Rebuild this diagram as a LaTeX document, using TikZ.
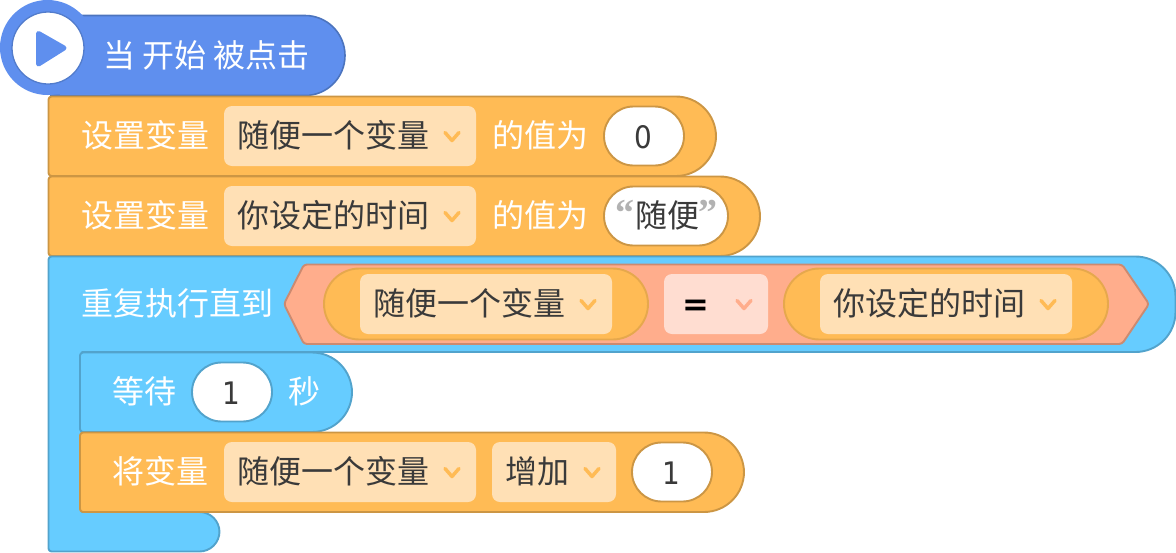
\documentclass[tikz,border=0pt]{standalone}
\usepackage{fontspec}
\setmainfont{Noto Sans CJK SC}
\newfontfamily\digitfont{DejaVu Sans}
\newfontfamily\quotefont{Liberation Serif}
\definecolor{hatfill}{HTML}{5F8FEE}
\definecolor{hatline}{HTML}{4C74BE}
\definecolor{orgfill}{HTML}{FFBB55}
\definecolor{orgline}{HTML}{CC9644}
\definecolor{bluefill}{HTML}{66CCFF}
\definecolor{blueline}{HTML}{52A3CC}
\definecolor{hexfill}{HTML}{FFAD8C}
\definecolor{hexline}{HTML}{CC8A70}
\definecolor{ddorg}{HTML}{FFE0B5}
\definecolor{ddred}{HTML}{FFDDD1}
\definecolor{pillline}{HTML}{E6A84D}
\definecolor{ink}{HTML}{3A3A3A}
\tikzset{
  x=1pt,y=-1pt,
  hatblock/.style={fill=hatfill,draw=hatline,line width=1.6pt},
  orgblock/.style={fill=orgfill,draw=orgline,line width=1.9pt,line join=round},
  blueblock/.style={fill=bluefill,draw=blueline,line width=1.9pt,line join=round},
  hexblock/.style={fill=hexfill,draw=hexline,line width=1.9pt,line join=round},
  reporter/.style={fill=orgfill,draw=pillline,line width=1.9pt},
  inputorg/.style={fill=white,draw=orgline,line width=1.9pt},
  inputblue/.style={fill=white,draw=blueline,line width=1.9pt},
  whitelabel/.style={anchor=base west,inner sep=0pt,text=white,font=\fontsize{32}{36}\selectfont},
  inklabel/.style={anchor=base west,inner sep=0pt,text=ink,font=\fontsize{32}{36}\selectfont},
  numlabel/.style={anchor=base,inner sep=0pt,text=ink,xscale=0.9,font=\digitfont\fontsize{31}{34}\selectfont},
  quotelabel/.style={anchor=base west,inner sep=0pt,text=black!30,font=\quotefont\bfseries\fontsize{38}{40}\selectfont},
  chev/.style={line width=3.5pt,line cap=round,line join=round}
}
% #1 x left, #2 x right, #3 y centre, #4 fill, #5 chevron colour
\newcommand{\ddbox}[5]{%
  \fill[#4,rounded corners=8pt] (#1,#3-30) rectangle (#2,#3+30);
  \draw[chev,#5] (#2-31,#3-3.5) -- (#2-24,#3+4.5) -- (#2-17,#3-3.5);
}
% stack block: #1 style, #2 left, #3 top, #4 right, #5 bottom
\newcommand{\stackblock}[5]{%
  \draw[#1] (#2,#3+40) [rounded corners=3pt] -- (#2,#3) [rounded corners=40pt] -- (#4,#3) -- (#4,#5) [rounded corners=3pt] -- (#2,#5) -- cycle;
}
\begin{document}
\begin{tikzpicture}
\useasboundingbox (0,0) rectangle (1176,552);
% hat
\draw[hatblock] (80,15.5) [rounded corners=40pt] -- (345,15.5) -- (345,95.5) [sharp corners] -- (50,95.5);
\fill[hatfill] (60,17) rectangle (110,94.7);
\fill[hatfill] (47.5,47.5) circle (47.5);
\draw[fill=white,draw=hatline!70!hatfill,line width=1.3pt] (48,48) circle (36);
\fill[hatfill,draw=hatfill,line width=5pt,line join=round] (38.5,33.5) -- (64,48) -- (38.5,64) -- cycle;
\node[whitelabel] (hatlabel) at (103,67.5) {当 开始 被点击};
% set 1
\stackblock{orgblock}{48.5}{96.5}{716}{176}
\node[whitelabel] (set1) at (81,147.5) {设置变量};
\ddbox{224}{476}{136}{ddorg}{orgfill}
\node[inklabel] (set1var) at (237,147.5) {随便一个变量};
\node[whitelabel] (set1is) at (492,147.5) {的值为};
\draw[inputorg,rounded corners=29.5pt] (604,106.5) rectangle (684,165.5);
\node[numlabel] (set1val) at (643,148) {0};
% set 2
\stackblock{orgblock}{48.5}{176.5}{760}{256}
\node[whitelabel] (set2) at (81,227.5) {设置变量};
\ddbox{224}{476}{216}{ddorg}{orgfill}
\node[inklabel] (set2var) at (237,227.5) {你设定的时间};
\node[whitelabel] (set2is) at (492,227.5) {的值为};
\draw[inputorg,rounded corners=29.5pt] (604,186.5) rectangle (728,245.5);
\node[inklabel] (set2val) at (635,227.5) {随便};
\node[quotelabel] (set2q1) at (615,225) {“};
\node[quotelabel] (set2q2) at (698,225) {”};
% repeat until C block
\draw[blueblock] (48.5,300) [rounded corners=3pt] -- (48.5,256.5) [rounded corners=40pt] -- (1175.5,256.5) -- (1175.5,352) [sharp corners] -- (82,352) -- (82,512) -- (180,512) [rounded corners=20pt] -- (219.5,512) -- (219.5,551.5) [rounded corners=3pt] -- (48.5,551.5) -- cycle;
\node[whitelabel] (until) at (81,315.5) {重复执行直到};
% hexagon
\draw[hexblock,rounded corners=3pt] (284,304) -- (304,264.5) -- (1122,264.5) -- (1149,304) -- (1122,344) -- (304,344) -- cycle;
\draw[reporter,rounded corners=35.5pt] (324,268.5) rectangle (648,339.5);
\ddbox{360}{612}{304}{ddorg}{orgfill}
\node[inklabel] (leftvar) at (373,315.5) {随便一个变量};
\ddbox{664}{768}{304}{ddred}{hexfill}
\node[anchor=base,inner sep=0pt,text=black,font=\digitfont\bfseries\fontsize{32}{36}\selectfont] (eq) at (696,315) {=};
\draw[reporter,rounded corners=35.5pt] (784,268.5) rectangle (1108,339.5);
\ddbox{820}{1072}{304}{ddorg}{orgfill}
\node[inklabel] (rightvar) at (833,315.5) {你设定的时间};
% wait
\stackblock{blueblock}{80}{352.5}{352}{432}
\node[whitelabel] (wait) at (112,403.5) {等待};
\draw[inputblue,rounded corners=29.5pt] (192,362.5) rectangle (272,421.5);
\node[numlabel] (waitval) at (231,404) {1};
\node[whitelabel] (sec) at (288,403.5) {秒};
% change
\stackblock{orgblock}{80}{432.5}{744}{512}
\node[whitelabel] (chg) at (112,483.5) {将变量};
\ddbox{224}{476}{472}{ddorg}{orgfill}
\node[inklabel] (chgvar) at (237,483.5) {随便一个变量};
\ddbox{492}{616}{472}{ddorg}{orgfill}
\node[inklabel] (chgop) at (505,483.5) {增加};
\draw[inputorg,rounded corners=29.5pt] (632,442.5) rectangle (712,501.5);
\node[numlabel] (chgval) at (671,484) {1};
\end{tikzpicture}
\end{document}
